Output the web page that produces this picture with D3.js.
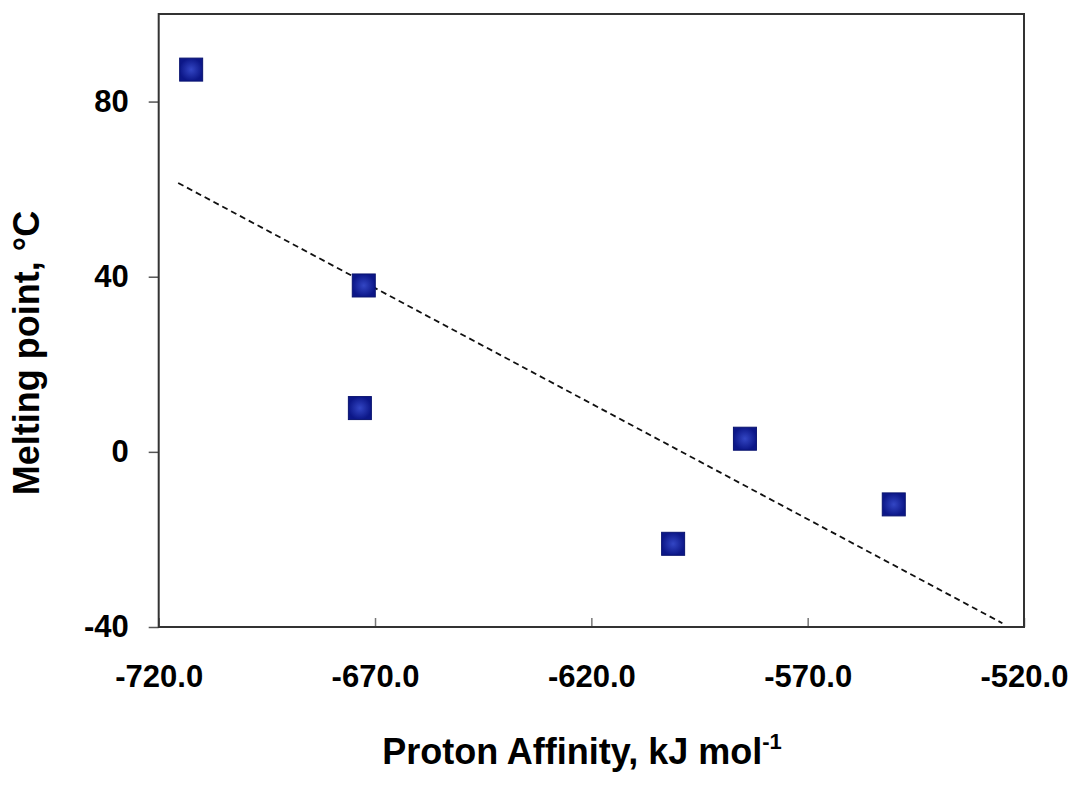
<!DOCTYPE html>
<html>
<head>
<meta charset="utf-8">
<script src="https://cdn.jsdelivr.net/npm/d3@7"></script>
<style>
  body { margin: 0; background: #fff; }
  text { font-family: "Liberation Sans", Arial, sans-serif; font-weight: bold; fill: #000; }
</style>
</head>
<body>
<div id="chart"></div>
<script>
// data
const protonAffinity = [-712.5, -672.6, -673.5, -601.1, -584.5, -550.1];
const meltingPoint   = [87.3, 38, 10, -21, 3, -12];
const xTicks = [-720, -670, -620, -570, -520];
const yTicks = [-40, 0, 40, 80];
const trendRange = [-715.5, -525];

const width = 1073, height = 785;
const margin = { left: 158.7, right: 49, top: 14, bottom: 158 };

const svg = d3.select("#chart").append("svg")
  .attr("width", width)
  .attr("height", height);

const x = d3.scaleLinear().domain([-720, -520]).range([margin.left, width - margin.right]);
const y = d3.scaleLinear().domain([-40, 100]).range([height - margin.bottom, margin.top]);

// plain hyphen instead of d3's unicode minus
const fmtX = d => d.toFixed(1);
const fmtY = d => String(d);

// marker gradient
const grad = svg.append("defs").append("radialGradient").attr("id", "sq");
grad.append("stop").attr("offset", "0%").attr("stop-color", "#3346c4");
grad.append("stop").attr("offset", "100%").attr("stop-color", "#0c1788");

// x axis (ticks point into the plot)
const xAxis = svg.append("g")
  .attr("transform", `translate(0,${y(-40)})`)
  .call(d3.axisBottom(x).tickValues(xTicks).tickSize(-9).tickPadding(38).tickFormat(fmtX));
xAxis.select(".domain").remove();
xAxis.selectAll(".tick line").attr("stroke", "#777").attr("stroke-width", 1.5);
xAxis.selectAll("text").attr("font-size", 31).attr("dy", "0.71em");

// y axis
const yAxis = svg.append("g")
  .attr("transform", `translate(${x(-720)},0)`)
  .call(d3.axisLeft(y).tickValues(yTicks).tickSize(10).tickPadding(20).tickFormat(fmtY));
yAxis.select(".domain").remove();
yAxis.selectAll(".tick line").attr("stroke", "#555").attr("stroke-width", 1.5);
yAxis.selectAll("text").attr("font-size", 31);

// frame
svg.append("rect")
  .attr("x", x(-720)).attr("y", y(100))
  .attr("width", x(-520) - x(-720)).attr("height", y(-40) - y(100))
  .attr("fill", "none").attr("stroke", "#333").attr("stroke-width", 2);

// linear trend line from a least squares fit
const mx = d3.mean(protonAffinity), my = d3.mean(meltingPoint);
const sxy = d3.sum(protonAffinity, (v, i) => (v - mx) * (meltingPoint[i] - my));
const sxx = d3.sum(protonAffinity, v => (v - mx) * (v - mx));
const slope = sxy / sxx, icpt = my - slope * mx;

svg.append("path")
  .datum(trendRange.map(v => [v, icpt + slope * v]))
  .attr("d", d3.line().x(d => x(d[0])).y(d => y(d[1])))
  .attr("stroke", "#111").attr("stroke-width", 1.8)
  .attr("stroke-dasharray", "6,4").attr("fill", "none");

// markers
const s = 23;
svg.selectAll(".pt")
  .data(protonAffinity)
  .join("rect")
  .attr("class", "pt")
  .attr("x", (d) => x(d) - s / 2)
  .attr("y", (d, i) => y(meltingPoint[i]) - s / 2)
  .attr("width", s).attr("height", s)
  .attr("fill", "url(#sq)")
  .attr("stroke", "#0a1470").attr("stroke-width", 1);

// axis titles
const xt = svg.append("text")
  .attr("x", 582).attr("y", 764)
  .attr("text-anchor", "middle")
  .attr("font-size", 36);
xt.append("tspan").text("Proton Affinity, kJ mol");
xt.append("tspan").text("-1").attr("font-size", 22).attr("dy", -15);

svg.append("text")
  .attr("transform", "translate(39,353) rotate(-90)")
  .attr("text-anchor", "middle")
  .attr("font-size", 36)
  .text("Melting point, °C");
</script>
</body>
</html>
